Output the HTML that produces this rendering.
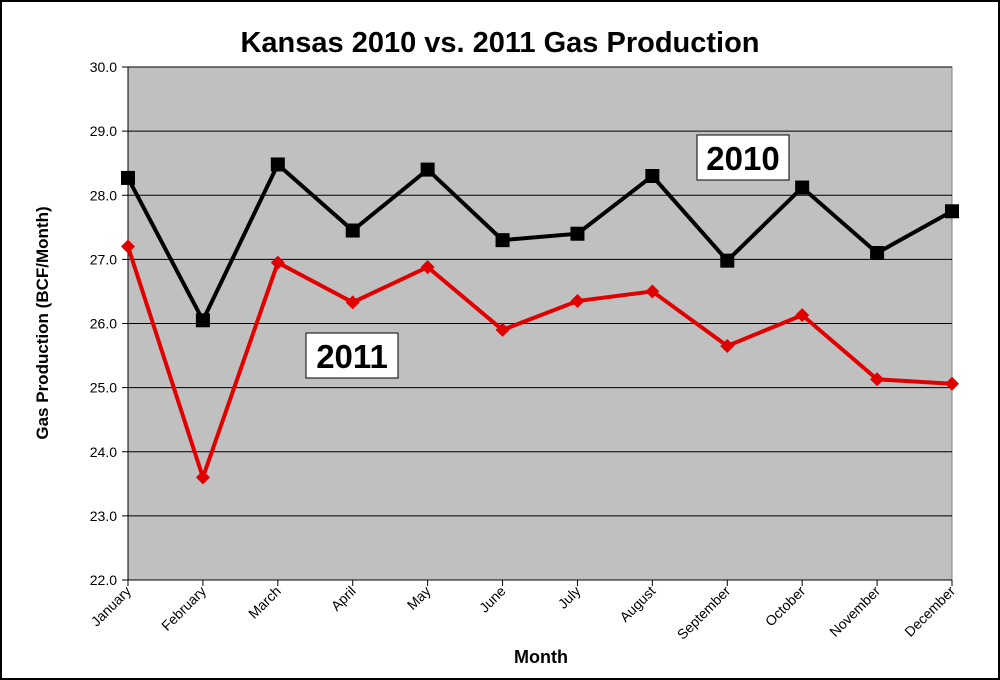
<!DOCTYPE html>
<html><head><meta charset="utf-8"><style>
body{margin:0;background:#fff}
svg{display:block;font-family:"Liberation Sans",Arial,sans-serif}
</style></head><body>
<svg id="chart" width="1000" height="680" viewBox="0 0 1000 680">
<rect x="1" y="1" width="998" height="678" fill="#fff" stroke="#000" stroke-width="2"/>
<text x="500" y="52" text-anchor="middle" font-size="29" font-weight="bold">Kansas 2010 vs. 2011 Gas Production</text>
<rect x="128" y="67" width="824" height="513" fill="#c0c0c0" stroke="#808080"/>
<g id="grid"></g><g id="yticks"></g><g id="xticks"></g><g id="series"></g>
<text transform="translate(48,323) rotate(-90)" text-anchor="middle" font-size="17" font-weight="bold">Gas Production (BCF/Month)</text>
<text x="541" y="663" text-anchor="middle" font-size="18" font-weight="bold">Month</text>
<rect x="697" y="135" width="92" height="45" fill="#fff" stroke="#000"/>
<text x="743" y="170" text-anchor="middle" font-size="33" font-weight="bold">2010</text>
<rect x="306" y="333" width="92" height="45" fill="#fff" stroke="#000"/>
<text x="352" y="368" text-anchor="middle" font-size="33" font-weight="bold">2011</text>
</svg>
<script>
const months=["January","February","March","April","May","June","July","August","September","October","November","December"];
const values2010=[28.27,26.05,28.48,27.45,28.4,27.3,27.4,28.3,26.98,28.12,27.1,27.75];
const values2011=[27.2,23.6,26.95,26.33,26.88,25.9,26.35,26.5,25.65,26.13,25.13,25.06];
const yTicks=[22,23,24,25,26,27,28,29,30];
const NS="http://www.w3.org/2000/svg";
const x=i=>128+i*(824/11);
const y=v=>580-(v-22)*(513/8);
function mk(tag,attrs,parent){const e=document.createElementNS(NS,tag);for(const k in attrs)e.setAttribute(k,attrs[k]);parent.appendChild(e);return e;}
const grid=document.getElementById('grid'),yt=document.getElementById('yticks'),xt=document.getElementById('xticks'),ser=document.getElementById('series');
yTicks.forEach(v=>{
 const l=mk('line',{x1:122,x2:952,y1:y(v),y2:y(v),stroke:'#000','stroke-width':1},grid);
 
 
 const t=mk('text',{x:117,y:y(v)+5,'text-anchor':'end','font-size':14},yt);
 t.textContent=v.toFixed(1);
 
 
});
mk('line',{x1:128,x2:128,y1:67,y2:580,stroke:'#000'},grid);
months.forEach((m,i)=>{
 const tk=mk('line',{x1:x(i),x2:x(i),y1:580,y2:586,stroke:'#000'},xt);
 
 
 const t=mk('text',{transform:`translate(${x(i)+4},${592}) rotate(-45)`,'text-anchor':'end','font-size':14},xt);
 t.textContent=m;
 
 
});
function series(vals,color,name,marker){
 const p=mk('polyline',{points:vals.map((v,i)=>x(i)+','+y(v)).join(' '),fill:'none',stroke:color,'stroke-width':4,'stroke-linejoin':'miter'},ser);
 
 
 vals.forEach((v,i)=>{
  let e;
  if(marker==='square'){e=mk('rect',{x:x(i)-7,y:y(v)-7,width:14,height:14,fill:color},ser);}
  else{e=mk('polygon',{points:`${x(i)},${y(v)-7} ${x(i)+7},${y(v)} ${x(i)},${y(v)+7} ${x(i)-7},${y(v)}`,fill:color},ser);}
  
  
 });
}
series(values2010,'#000','series-2010','square');
series(values2011,'#e00000','series-2011','diamond');
</script>
</body></html>
